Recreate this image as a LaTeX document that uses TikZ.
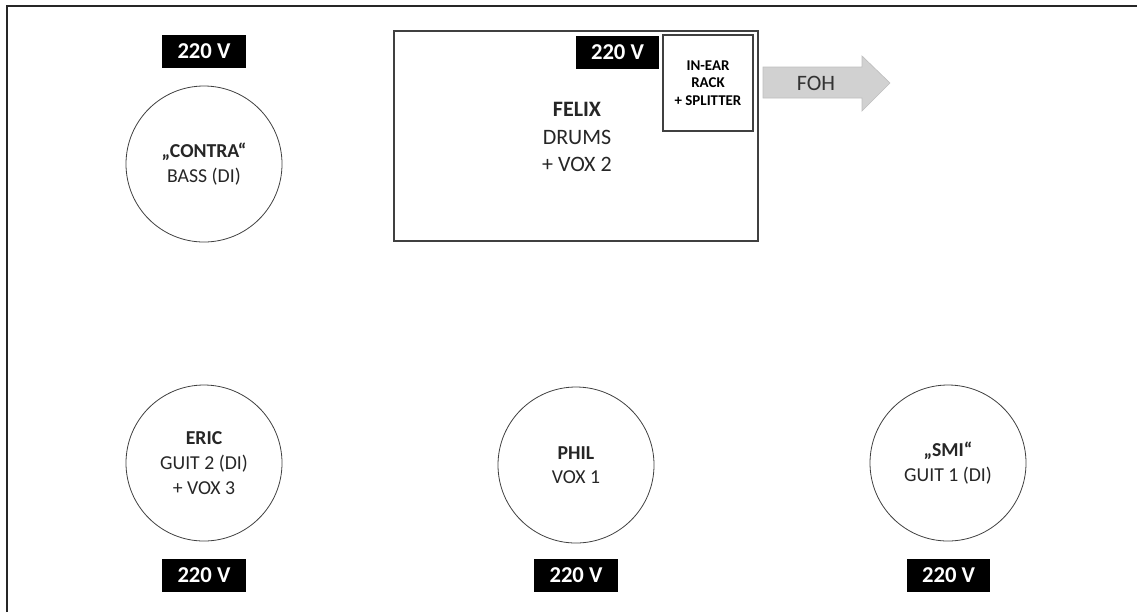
\documentclass[tikz,border=0pt]{standalone}
\usepackage{fontspec}
\setmainfont{Carlito}
\begin{document}
\begin{tikzpicture}[x=0.75pt,y=-0.75pt,
  voltbox/.style={fill=black,text=white,font=\fontsize{17pt}{20pt}\selectfont\bfseries,
    minimum width=62.5pt,minimum height=24.75pt,inner sep=0pt},
  member/.style={circle,draw=black!75,line width=0.6pt,minimum size=117pt,inner sep=0pt,
    align=center,font=\fontsize{14.8pt}{18.5pt}\selectfont,text=black!85},
  stagebox/.style={draw=black!75,line width=0.9pt,minimum width=273pt,minimum height=157.5pt,inner sep=0pt},
  rackbox/.style={draw=black!75,line width=0.9pt,minimum width=67.5pt,minimum height=72pt,inner sep=0pt,
    align=center,font=\fontsize{11.2pt}{13.2pt}\selectfont\bfseries},
  fohtext/.style={font=\fontsize{16.5pt}{19pt}\selectfont,text=black!80,inner sep=0pt}]
\useasboundingbox (0,0) rectangle (1137,612);
% frame
\coordinate (fb) at (7,612);
\coordinate (fc) at (7,6);
\coordinate (fe) at (1137,6);
\draw[line width=1.1pt,black!85] (fb) -- (fc) -- (fe);

% drums riser
\node[stagebox] (felix) at (576,136) {};
\node[align=center,font=\fontsize{16.5pt}{20.5pt}\selectfont,text=black!85] (felixtxt) at (577,137)
  {\textbf{FELIX}\\DRUMS\\+ VOX 2};
\node[voltbox] (vfelix) at (617.5,52) {220 V};
\node[rackbox] (rack) at (708,83) {IN-EAR\\RACK\\+ SPLITTER};

% FOH arrow
\coordinate (a1) at (763,67);
\coordinate (a2) at (862,67);
\coordinate (a3) at (862,56);
\coordinate (a4) at (890,83);
\coordinate (a5) at (862,111);
\coordinate (a6) at (862,98);
\coordinate (a7) at (763,98);
\filldraw[fill=black!18,draw=black!25,line width=0.5pt] (a1) -- (a2) -- (a3) -- (a4) -- (a5) -- (a6) -- (a7) -- cycle;
\node[fohtext] (foh) at (816,83) {FOH};

% members
\node[voltbox] (vcontra) at (204,51.5) {220 V};
\node[member] (contra) at (204,164) {\textbf{„CONTRA“}\\BASS (DI)};

\node[member] (eric) at (204,463) {\textbf{ERIC}\\GUIT 2 (DI)\\+ VOX 3};
\node[voltbox] (veric) at (204,575) {220 V};

\node[member] (phil) at (576,465) {\textbf{PHIL}\\VOX 1};
\node[voltbox] (vphil) at (576,575) {220 V};

\node[member] (smi) at (948,463) {\textbf{„SMI“}\\GUIT 1 (DI)};
\node[voltbox] (vsmi) at (948.5,575) {220 V};
\end{tikzpicture}
\end{document}
